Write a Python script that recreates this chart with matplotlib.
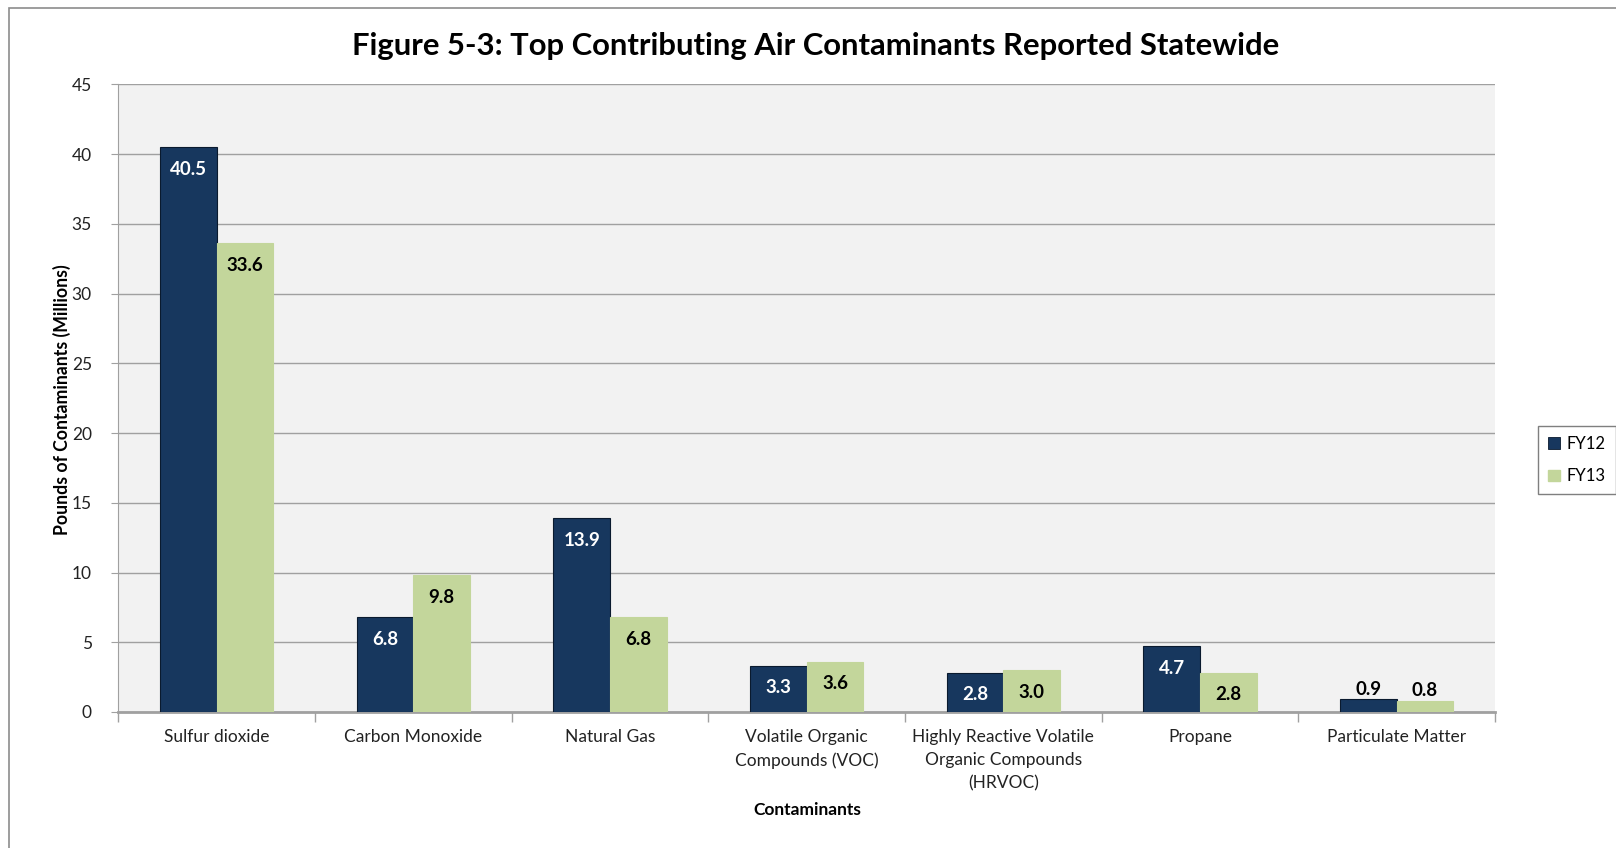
import matplotlib.pyplot as plt
import numpy as np
from matplotlib.patches import Patch, Rectangle

plt.rcParams['font.family'] = ['Lato', 'DejaVu Sans']

categories = ['Sulfur dioxide', 'Carbon Monoxide', 'Natural Gas',
              'Volatile Organic\nCompounds (VOC)',
              'Highly Reactive Volatile\nOrganic Compounds\n(HRVOC)',
              'Propane', 'Particulate Matter']
fy12 = [40.5, 6.8, 13.9, 3.3, 2.8, 4.7, 0.9]
fy13 = [33.6, 9.8, 6.8, 3.6, 3.0, 2.8, 0.8]
series_names = ['FY12', 'FY13']
yticks = [0, 5, 10, 15, 20, 25, 30, 35, 40, 45]

navy = '#17375e'
green = '#c3d69b'

fig = plt.figure(figsize=(16.16, 8.48), dpi=100)

# chart border (runs off right/bottom edge like the cropped original)
fig.patches.append(Rectangle((8.5/1616, -0.1), 1.2, 1 - 8/848 + 0.1,
                             transform=fig.transFigure, fill=False,
                             edgecolor='#8c8c8c', lw=1.2))

ax = fig.add_axes([118.3/1616, 1 - 712/848, (1495 - 118.3)/1616, (712 - 84.3)/848])
ax.set_facecolor('#f2f2f2')

x = np.arange(len(categories))
w = 0.288
b1 = ax.bar(x - w/2, fy12, w, color=navy, edgecolor='#0a1a2e', lw=0.8, zorder=3)
b2 = ax.bar(x + w/2, fy13, w, color=green, edgecolor=green, lw=0.8, zorder=3)

for bars, vals, col in [(b1, fy12, 'white'), (b2, fy13, 'black')]:
    for r, v in zip(bars, vals):
        if v > 1.5:
            off, c = -22, col
        else:
            off, c = 10, 'black'
        ax.annotate('{:.1f}'.format(v), (r.get_x() + r.get_width()/2, v),
                    xytext=(0, off), textcoords='offset pixels',
                    ha='center', va='center', fontsize=13.5, fontweight='bold',
                    color=c, zorder=4)

ax.set_xlim(-0.5, len(categories) - 0.5)
ax.set_ylim(0, 45)
ax.set_yticks(yticks)
ax.yaxis.grid(True, color='#a0a0a0', lw=1, zorder=0)
ax.set_axisbelow(True)

ax.set_xticks(x)
ax.set_xticklabels(categories, fontsize=12.5, color='#222222', linespacing=1.55)
ax.set_xticks(np.arange(-0.5, len(categories)), minor=True)
ax.tick_params(axis='x', which='major', length=0, pad=12)
ax.tick_params(axis='x', which='minor', length=7, color='#a0a0a0', width=1)
ax.tick_params(axis='y', length=5, color='#a0a0a0', labelsize=12.5,
               labelcolor='#222222', pad=14)

for s in ['top', 'right']:
    ax.spines[s].set_visible(False)
ax.spines['left'].set_color('#a0a0a0')
ax.spines['bottom'].set_color('#a0a0a0')
ax.spines['bottom'].set_linewidth(2)

fig.text(816/1616, 1 - 46/848,
         'Figure 5-3: Top Contributing Air Contaminants Reported Statewide',
         ha='center', va='center', fontsize=22.3, fontweight='bold')
fig.text(62/1616, 1 - 400/848, 'Pounds of Contaminants (Millions)',
         rotation=90, ha='center', va='center', fontsize=12.7, fontweight='bold')
fig.text(807/1616, 1 - 810/848, 'Contaminants', ha='center', va='center',
         fontsize=12.5, fontweight='bold')

handles = [Patch(facecolor=navy, edgecolor='#0a1a2e', lw=0.6),
           Patch(facecolor=green, edgecolor=green)]
leg = fig.legend(handles, series_names, loc='center',
                 bbox_to_anchor=(1577/1616, 1 - 460/848), fontsize=12,
                 fancybox=False, framealpha=1, edgecolor='#7f7f7f',
                 handlelength=0.7, handleheight=0.7, handletextpad=0.4,
                 labelspacing=1.0, borderpad=0.6)
leg.get_frame().set_linewidth(1)

plt.savefig('out.png', dpi=100)
